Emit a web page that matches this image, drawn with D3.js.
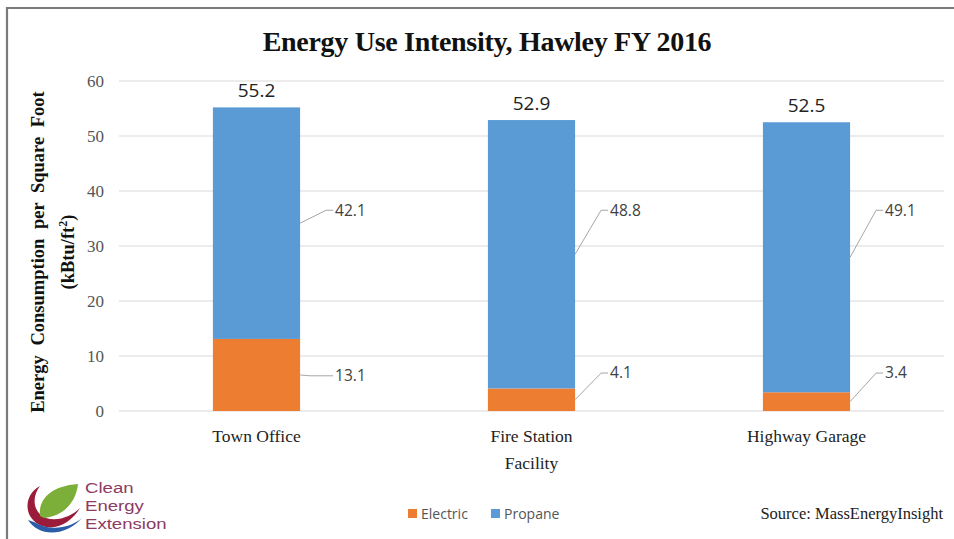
<!DOCTYPE html>
<html>
<head>
<meta charset="utf-8">
<script src="https://cdn.jsdelivr.net/npm/d3@7"></script>
<style>
  html, body { margin: 0; padding: 0; background: #fff; }
  svg { display: block; }
</style>
</head>
<body>
<svg id="chart" width="954" height="539"></svg>
<script>
// Energy use intensity per facility (kBtu/ft²)
const facilities = ["Town Office", "Fire Station Facility", "Highway Garage"];
const electric = [13.1, 4.1, 3.4];
const propane = [42.1, 48.8, 49.1];
const totals = [55.2, 52.9, 52.5];
const yTicks = [0, 10, 20, 30, 40, 50, 60];
const seriesNames = ["Electric", "Propane"];
const seriesColors = ["#ED7D31", "#5B9BD5"];

// Where each segment's callout label sits (in axis units), per series
const electricLabelAt = [6.4, 6.9, 6.9];
const propaneLabelAt = [36.5, 36.5, 36.5];

const svg = d3.select("#chart");
const W = 954, H = 539;

// frame (top and left edges)
svg.append("line").attr("x1", 7).attr("x2", W).attr("y1", 8).attr("y2", 8)
  .attr("stroke", "#7a7a7a").attr("stroke-width", 2.2);
svg.append("line").attr("x1", 7).attr("x2", 7).attr("y1", 7).attr("y2", H)
  .attr("stroke", "#7a7a7a").attr("stroke-width", 2.2);

const x = d3.scaleBand().domain(facilities).range([119, 944]).paddingInner(0.683).paddingOuter(0.3415);
const y = d3.scaleLinear().domain([0, 60]).range([411, 81]);

// title
svg.append("text").attr("x", 487).attr("y", 51).attr("text-anchor", "middle")
  .attr("font-family", "'Liberation Serif', 'Times New Roman', serif")
  .attr("font-weight", "bold").attr("font-size", 28).attr("fill", "#111")
  .attr("letter-spacing", -0.3)
  .text("Energy Use Intensity, Hawley FY 2016");

// gridlines
svg.append("g").selectAll("line").data(yTicks).join("line")
  .attr("x1", 119).attr("x2", 944)
  .attr("y1", d => y(d)).attr("y2", d => y(d))
  .attr("stroke", "#d9d9d9").attr("stroke-width", 1);

// y axis tick labels
const yAxis = d3.axisLeft(y).tickValues(yTicks).tickSize(0).tickPadding(0);
const gy = svg.append("g").attr("transform", "translate(104,0)").call(yAxis);
gy.select(".domain").remove();
gy.selectAll("text")
  .attr("font-family", "'Liberation Serif', 'Times New Roman', serif")
  .attr("font-size", 17).attr("fill", "#555").attr("dy", "0.35em");

// y axis title
const yt = svg.append("text")
  .attr("transform", "translate(44,252) rotate(-90)")
  .attr("text-anchor", "middle")
  .attr("font-family", "'Liberation Serif', 'Times New Roman', serif")
  .attr("font-weight", "bold").attr("font-size", 18.5).attr("fill", "#111");
yt.append("tspan").attr("x", 0).attr("dy", 0).attr("word-spacing", 5).text("Energy Consumption per Square Foot");
yt.append("tspan").attr("x", 0).attr("dy", 30).text("(kBtu/ft");
yt.append("tspan").attr("dy", -7).attr("font-size", 12).text("2");
yt.append("tspan").attr("dy", 7).text(")");

// stacked bars
const rows = facilities.map((f, i) => ({ facility: f, Electric: electric[i], Propane: propane[i] }));
const stack = d3.stack().keys(seriesNames)(rows);
const color = d3.scaleOrdinal().domain(seriesNames).range(seriesColors);

svg.append("g").selectAll("g").data(stack).join("g")
  .attr("fill", d => color(d.key))
  .selectAll("rect").data(d => d).join("rect")
  .attr("x", d => x(d.data.facility))
  .attr("width", x.bandwidth())
  .attr("y", d => y(d[1]))
  .attr("height", d => y(d[0]) - y(d[1]));

// callout labels with leader lines
const labelAt = { Electric: electricLabelAt, Propane: propaneLabelAt };
const callouts = svg.append("g");
stack.forEach(layer => {
  layer.forEach((d, i) => {
    const x0 = x(d.data.facility) + x.bandwidth();
    const ym = y((d[0] + d[1]) / 2);
    const yl = y(labelAt[layer.key][i]);
    const elbow = Math.abs(ym - yl) < 4 ? x0 + 10 : x0 + 26;
    callouts.append("path")
      .attr("d", `M${x0},${ym} L${elbow},${yl} L${x0 + 33},${yl}`)
      .attr("fill", "none").attr("stroke", "#a6a6a6").attr("stroke-width", 1);
    callouts.append("text")
      .attr("x", x0 + 35).attr("y", yl).attr("dy", "0.35em")
      .attr("font-family", "'Open Sans', 'Liberation Sans', sans-serif")
      .attr("font-size", 15.5).attr("fill", "#404040")
      .text(d.data[layer.key].toFixed(1));
  });
});

// totals above bars
svg.append("g").selectAll("text").data(facilities).join("text")
  .attr("x", d => x(d) + x.bandwidth() / 2)
  .attr("y", (d, i) => y(totals[i]) - 10)
  .attr("text-anchor", "middle")
  .attr("font-family", "'Open Sans', 'Liberation Sans', sans-serif")
  .attr("font-size", 19).attr("fill", "#222")
  .text((d, i) => totals[i].toFixed(1));

// category labels
const catLines = { "Fire Station Facility": ["Fire Station", "Facility"] };
const xg = svg.append("g");
facilities.forEach(f => {
  const lines = catLines[f] || [f];
  lines.forEach((t, j) => {
    xg.append("text")
      .attr("x", x(f) + x.bandwidth() / 2)
      .attr("y", 442 + j * 27)
      .attr("text-anchor", "middle")
      .attr("font-family", "'Liberation Serif', 'Times New Roman', serif")
      .attr("font-size", 17.5).attr("fill", "#222")
      .text(t);
  });
});

// legend
const lg = svg.append("g").attr("transform", "translate(408,514)");
seriesNames.forEach((s, i) => {
  const ox = i * 83;
  lg.append("rect").attr("x", ox).attr("y", -5).attr("width", 9).attr("height", 9).attr("fill", seriesColors[i]);
  lg.append("text").attr("x", ox + 13).attr("y", 0).attr("dy", "0.35em")
    .attr("font-family", "'Open Sans', 'Liberation Sans', sans-serif")
    .attr("font-size", 14).attr("fill", "#555").text(s);
});

// source
svg.append("text").attr("x", 943).attr("y", 519).attr("text-anchor", "end")
  .attr("font-family", "'Liberation Serif', 'Times New Roman', serif")
  .attr("font-size", 16.5).attr("fill", "#222")
  .text("Source: MassEnergyInsight");

// organisation logo
const logo = svg.append("g").attr("transform", "translate(20,478)");
// red swoosh
logo.append("path")
  .attr("d", "M20,8 C4,16 2,40 22,48 C36,53 52,44 60,30 C52,38 38,44 26,40 C12,34 12,18 20,8 Z")
  .attr("fill", "#9b1b3a");
// blue swoosh
logo.append("path")
  .attr("d", "M8,42 C18,58 44,60 62,40 C50,50 30,54 14,44 Z")
  .attr("fill", "#2a5ca8");
// green leaf
logo.append("path")
  .attr("d", "M20,38 C18,22 30,8 58,6 C56,24 44,38 24,40 Z")
  .attr("fill", "#7cae3a");
// wordmark, stretched slightly wider than the font's natural width
const word = logo.append("g").attr("transform", "translate(65,0) scale(1.2,1)");
["Clean", "Energy", "Extension"].forEach((t, i) => {
  word.append("text")
    .attr("x", 0).attr("y", 15 + i * 18)
    .attr("font-family", "'Liberation Sans', Arial, sans-serif")
    .attr("font-size", 15.5).attr("fill", "#8e3a62")
    .text(t);
});
</script>
</body>
</html>
